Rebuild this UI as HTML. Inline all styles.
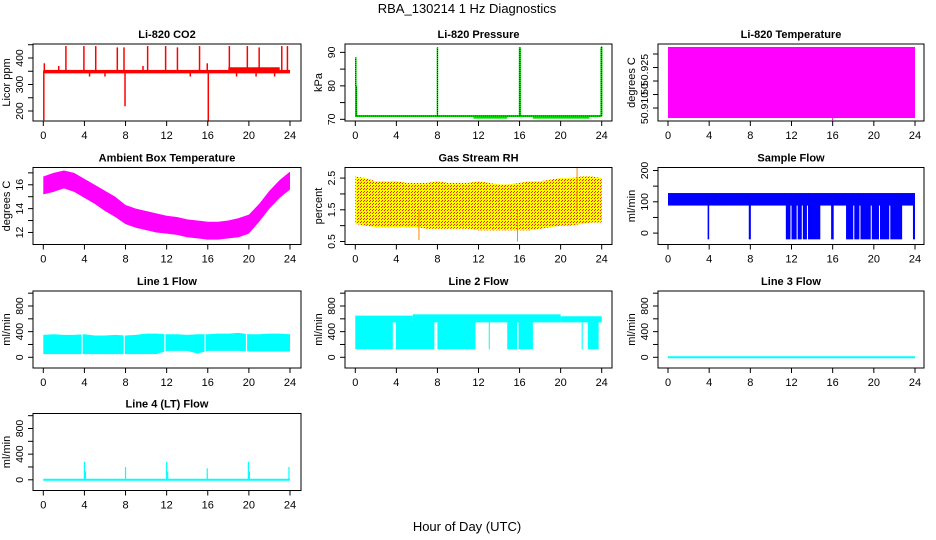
<!DOCTYPE html>
<html><head><meta charset="utf-8"><style>
html,body{margin:0;padding:0;background:#fff;}
svg{display:block;font-family:"Liberation Sans",sans-serif;}
</style></head><body>
<svg id="c" width="936" height="540" viewBox="0 0 936 540" xmlns="http://www.w3.org/2000/svg">
<defs>
<pattern id="rhpat" width="3" height="3" patternUnits="userSpaceOnUse">
<rect width="3" height="3" fill="#ffff00" shape-rendering="crispEdges"/><rect x="0" y="0" width="1" height="1" fill="#ff2200" shape-rendering="crispEdges"/><rect x="1" y="2" width="1" height="1" fill="#ff2200" shape-rendering="crispEdges"/>
</pattern>
</defs>
<text x="467" y="13" text-anchor="middle" font-size="13">RBA_130214  1 Hz Diagnostics</text>
<text x="467" y="531" text-anchor="middle" font-size="13">Hour of Day (UTC)</text>
</svg>
<script>
// ---- data arrays ----
const xTicks = [0,4,8,12,16,20,24];
const envHours = [0,1,2,3,4,5,6,7,8,9,10,11,12,13,14,15,16,17,18,19,20,21,22,23,24];
// CO2
const co2BandLow = 342, co2BandHigh = 355;
const co2SpikeHours = [2.2,3.95,5.1,7.2,7.85,10.15,11.9,13.05,15.2,15.95,18.1,19.85,21.0,23.2,23.75,0.05,7.95,16.05,0.1,1.5,4.5,6.0,9.7,14.3,18.8,20.7,22.5];
const co2SpikeVals  = [445,445,445,440,440,445,445,440,445,380,445,445,440,445,445,165,218,160,380,370,330,330,370,330,330,330,330];
// Pressure
const presBase = 71;
const presSpikeHours = [0.05,0.1,8.0,16.0,16.05,23.95,24.0];
const presSpikeVals  = [88.5,80,91.5,91.5,91.5,91.5,91.8];
const presLowSegs = [[11.5,14.8],[17.3,22.8]];
const presLowVal = 70.2;
// Li-820 temperature
const t820Low = 50.9063, t820High = 50.9326;
// Ambient temperature envelope
const ambUpper = [16.7,17.0,17.2,17.0,16.5,16.0,15.5,15.0,14.3,14.0,13.8,13.6,13.4,13.3,13.1,13.0,12.9,12.9,13.0,13.2,13.5,14.4,15.5,16.4,17.1];
const ambLower = [15.2,15.4,15.7,15.4,14.9,14.4,13.8,13.3,12.7,12.4,12.2,12.0,11.9,11.8,11.6,11.5,11.4,11.4,11.5,11.6,11.9,12.9,14.0,14.9,15.6];
// Gas stream RH envelope
const rhUpper = [2.55,2.5,2.4,2.4,2.4,2.35,2.35,2.35,2.4,2.35,2.35,2.35,2.4,2.35,2.3,2.3,2.35,2.4,2.4,2.45,2.5,2.5,2.55,2.55,2.5];
const rhLower = [1.05,1.0,0.95,0.95,0.95,0.95,0.95,0.9,0.9,0.9,0.9,0.9,0.85,0.85,0.85,0.85,0.85,0.85,0.9,0.95,1.0,1.0,1.05,1.1,1.1];
const rhSpikeHours = [6.2,15.8,21.6];
const rhSpikeVals  = [0.55,0.5,2.85];
// Sample flow
const sfBandLow = 88, sfBandHigh = 128;
const sfDropSegs = [[3.85,4.0],[7.85,8.05],[11.45,11.9],[12.0,12.5],[12.6,13.0],[13.1,13.5],[13.6,14.8],[15.85,16.1],[17.3,18.0],[18.1,18.6],[18.7,19.7],[19.8,20.5],[20.6,21.5],[21.6,22.75],[23.8,24.0]];
const sfDropVal = -20;
// Line 1 flow
const l1Upper = [350,360,350,350,360,340,340,350,340,350,370,370,360,360,350,360,360,370,370,380,360,360,370,370,360];
const l1Lower = [50,50,50,50,50,50,50,50,50,50,50,50,100,100,100,60,100,100,100,100,90,90,90,90,90];
const l1GapHours = [3.77,7.87,11.83,15.74,19.77];
// Line 2 flow
const l2TopSegs = [[0,5.6],[5.6,20],[20,24]];
const l2TopVals = [650,670,640];
const l2BandLow = 545;
const l2LowSegs = [[0,3.65],[3.95,7.7],[8.0,11.7],[13.0,13.1],[14.8,15.75],[15.9,17.3],[22.05,22.15],[22.65,23.7]];
const l2LowVal = 125;
// Line 3 flow
const l3Val = 0;
// Line 4 flow
const l4SpikeHours = [4.0,4.1,8.0,12.0,12.1,15.95,19.95,20.05,23.9];
const l4SpikeVals  = [280,130,200,280,130,180,280,130,200];

// ---- layout ----
const svg = document.getElementById('c');
const NS = 'http://www.w3.org/2000/svg';
const colL = [33,345,658], colR = [301,612,924], x0s = [43.3,355.3,668], x24s = [290,601.7,915];
const rowT = [44,167.5,291,413.5], PH = 77;
function el(tag, attrs, parent){ const e=document.createElementNS(NS,tag); for(const k in attrs) e.setAttribute(k,attrs[k]); (parent||svg).appendChild(e); return e; }

function panel(col,row,title,ylab,yTop,yBot,ticks,labels,name){
  const L=colL[col],R=colR[col],T=rowT[row],B=T+PH;
  const g=el('g',{});
  
  
  const xs=h=>x0s[col]+(x24s[col]-x0s[col])*h/24;
  const ys=v=>T+(yTop-v)/(yTop-yBot)*PH;
  const marks=el('g',{},g);
  
  
  const box=el('rect',{x:L,y:T,width:R-L,height:PH,fill:'none',stroke:'#000','stroke-width':1},g);
  
  
  const t=el('text',{x:(L+R)/2,y:T-6,'text-anchor':'middle','font-size':11,'font-weight':'bold'},g); t.textContent=title;
  
  
  const xa=el('g',{stroke:'#000','stroke-width':1},g);
  
  
  xTicks.forEach(h=>{
    el('line',{x1:xs(h),x2:xs(h),y1:B,y2:B+5},xa);
    const tx=el('text',{x:xs(h),y:B+18,'text-anchor':'middle','font-size':11,stroke:'none'},xa); tx.textContent=h;
    
    
  });
  const ya=el('g',{stroke:'#000','stroke-width':1},g);
  
  
  ticks.forEach(v=>el('line',{x1:L,x2:L-5,y1:ys(v),y2:ys(v)},ya));
  labels.forEach(lb=>{
    const yy = lb.y!==undefined? lb.y : ys(lb.v);
    const tx=el('text',{x:0,y:0,'text-anchor':'middle','font-size':10.5,stroke:'none',transform:`translate(${L-10},${yy}) rotate(-90)`},ya); tx.textContent=lb.t;
    
    
  });
  const yl=el('text',{x:0,y:0,'text-anchor':'middle','font-size':11,transform:`translate(${L-23},${(T+B)/2}) rotate(-90)`},g); yl.textContent=ylab;
  
  
  return {xs,ys,g:marks};
}
function vbar(p,h,v1,v2,color,w){ return el('line',{x1:p.xs(h),x2:p.xs(h),y1:p.ys(v1),y2:p.ys(v2),stroke:color,'stroke-width':w||1},p.g); }
function band(p,h1,h2,v1,v2,fill){ return el('rect',{x:p.xs(h1),y:p.ys(v2),width:p.xs(h2)-p.xs(h1),height:p.ys(v1)-p.ys(v2),fill:fill},p.g); }
function envelope(p,hours,up,lo,fill){
  let pts=hours.map((h,i)=>p.xs(h)+','+p.ys(up[i]));
  pts=pts.concat(hours.slice().reverse().map((h,i)=>p.xs(h)+','+p.ys(lo[lo.length-1-i])));
  return el('polygon',{points:pts.join(' '),fill:fill},p.g);
}

// CO2
let p=panel(0,0,'Li-820 CO2','Licor ppm',452.8,162.3,[200,250,300,350,400,450],[{v:200,t:'200'},{v:300,t:'300'},{v:400,t:'400'}],'co2');
band(p,0,24,co2BandLow,co2BandHigh,'#ff0000');
co2SpikeHours.forEach((h,i)=>{ const b=vbar(p,h,350,co2SpikeVals[i],'#ff0000',1.5);   });
band(p,18,23,345,365,'#ff0000');

// Pressure
p=panel(1,0,'Li-820 Pressure','kPa',92.5,69.5,[70,75,80,85,90],[{v:70,t:'70'},{v:80,t:'80'},{v:90,t:'90'}],'pressure');
presLowSegs.forEach(s=>band(p,s[0],s[1],presLowVal,presBase,'#00dd00'));
el('line',{x1:p.xs(0),x2:p.xs(24),y1:p.ys(presBase),y2:p.ys(presBase),stroke:'#00ff00','stroke-width':2},p.g);
el('line',{x1:p.xs(0),x2:p.xs(24),y1:p.ys(presBase),y2:p.ys(presBase),stroke:'#000','stroke-width':1,'stroke-dasharray':'1,1'},p.g);
presSpikeHours.forEach((h,i)=>{ const b=vbar(p,h,presBase,presSpikeVals[i],'#00cc00',1.5);   el('line',{x1:p.xs(h),x2:p.xs(h),y1:p.ys(presBase),y2:p.ys(presSpikeVals[i]),stroke:'#000','stroke-width':0.7,'stroke-dasharray':'1,1'},p.g); });

// Li-820 temperature
p=panel(2,0,'Li-820 Temperature','degrees C',50.9337,50.9052,[50.910,50.915,50.920,50.925,50.930],[{y:108,t:'50.910'},{y:89,t:'50'},{y:70,t:'50.925'}],'li820-temperature');
band(p,0,24,t820Low,t820High,'#ff00ff');
vbar(p,16,t820Low,50.9055,'#ff00ff',1);

// Ambient temperature
p=panel(0,1,'Ambient Box Temperature','degrees C',17.45,10.99,[12,13,14,15,16,17],[{v:12,t:'12'},{v:14,t:'14'},{v:16,t:'16'}],'ambient-temperature');
envelope(p,envHours,ambUpper,ambLower,'#ff00ff');

// Gas stream RH
p=panel(1,1,'Gas Stream RH','percent',2.834,0.405,[0.5,1,1.5,2,2.5],[{v:0.5,t:'0.5'},{v:1.5,t:'1.5'},{v:2.5,t:'2.5'}],'gas-stream-rh');
envelope(p,envHours,rhUpper,rhLower,'url(#rhpat)');
rhSpikeHours.forEach((h,i)=>{ const b=vbar(p,h,1.5,rhSpikeVals[i],'#ff8800',1);   });

// Sample flow
p=panel(2,1,'Sample Flow','ml/min',209.6,-36.4,[0,50,100,150,200],[{v:0,t:'0'},{v:100,t:'100'},{v:200,t:'200'}],'sample-flow');
band(p,0,24,sfBandLow,sfBandHigh,'#0000ff');
sfDropSegs.forEach(s=>{ const r=band(p,s[0],s[1],sfDropVal,sfBandLow+1,'#0000ff');   });

// Line flows
const lineTicks=[0,200,400,600,800,1000], lineLabels=[{v:0,t:'0'},{v:400,t:'400'},{v:800,t:'800'}];
p=panel(0,2,'Line 1 Flow','ml/min',1034,-167,lineTicks,lineLabels,'line1-flow');
envelope(p,envHours,l1Upper,l1Lower,'#00ffff');
l1GapHours.forEach(h=>{ const b=vbar(p,h,l1Lower[Math.round(h)]-10,l1Upper[Math.round(h)]+10,'#ffffff',1.2);   });

p=panel(1,2,'Line 2 Flow','ml/min',1034,-167,lineTicks,lineLabels,'line2-flow');
l2TopSegs.forEach((s,i)=>band(p,s[0],s[1],l2BandLow,l2TopVals[i],'#00ffff'));
l2LowSegs.forEach(s=>{ const r=band(p,s[0],s[1],l2LowVal,l2BandLow+5,'#00ffff');   });

p=panel(2,2,'Line 3 Flow','ml/min',1034,-167,lineTicks,lineLabels,'line3-flow');
el('line',{x1:p.xs(0),x2:p.xs(24),y1:p.ys(l3Val),y2:p.ys(l3Val),stroke:'#00ffff','stroke-width':2},p.g);

p=panel(0,3,'Line 4 (LT) Flow','ml/min',1034,-167,lineTicks,lineLabels,'line4-flow');
el('line',{x1:p.xs(0),x2:p.xs(24),y1:p.ys(l3Val),y2:p.ys(l3Val),stroke:'#00ffff','stroke-width':2},p.g);
l4SpikeHours.forEach((h,i)=>{ const b=vbar(p,h,0,l4SpikeVals[i],'#00ffff',1.2);   });
</script>
</body></html>
